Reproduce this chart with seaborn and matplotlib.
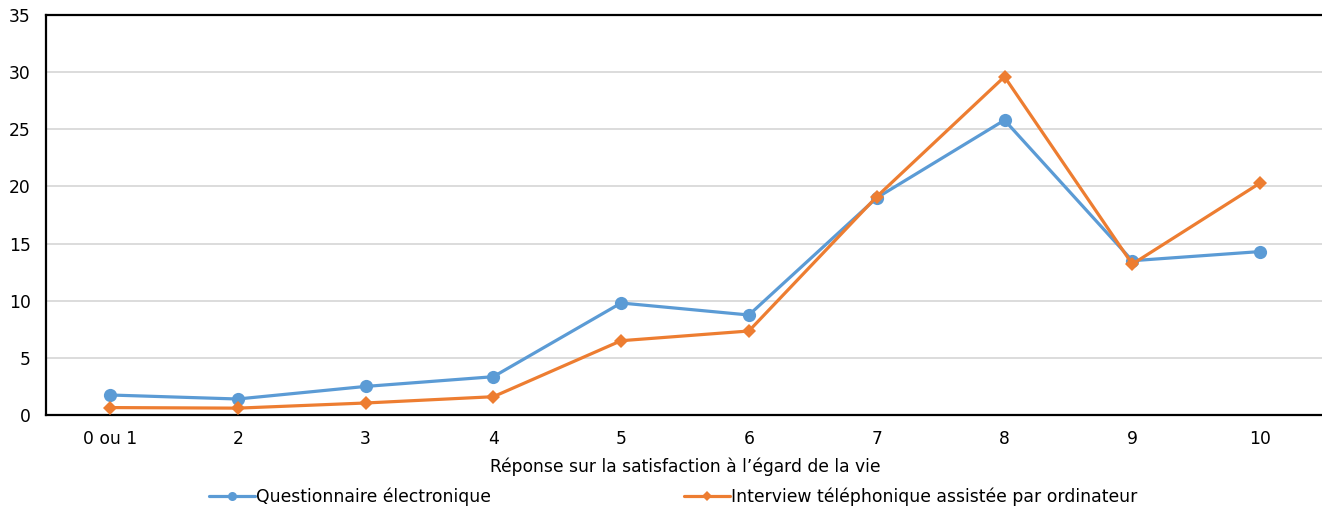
import matplotlib
matplotlib.use("Agg")
import matplotlib.pyplot as plt
from matplotlib.lines import Line2D
import seaborn as sns
import pandas as pd

categories = ["0 ou 1", "2", "3", "4", "5", "6", "7", "8", "9", "10"]
questionnaire = [1.75, 1.4, 2.5, 3.35, 9.8, 8.75, 19.0, 25.8, 13.5, 14.3]
interview = [0.65, 0.6, 1.05, 1.6, 6.5, 7.35, 19.1, 29.6, 13.2, 20.3]
series_names = ["Questionnaire électronique",
                "Interview téléphonique assistée par ordinateur"]
y_ticks = [0, 5, 10, 15, 20, 25, 30, 35]

sns.set_theme(style="white")
plt.rcParams["font.family"] = ["DejaVu Sans"]
plt.rcParams["text.color"] = "black"

fig = plt.figure(figsize=(13.22, 5.09), dpi=100)
ax = fig.add_axes([46 / 1322, 94 / 509, 1278 / 1322, 400 / 509])

pos = list(range(len(categories)))
df = pd.DataFrame({"pos": pos * 2,
                   "val": questionnaire + interview,
                   "serie": [series_names[0]] * len(pos) + [series_names[1]] * len(pos)})

blue = "#5B9BD5"
orange = "#ED7D31"
sns.lineplot(data=df[df.serie == series_names[0]], x="pos", y="val", ax=ax,
             color=blue, lw=2.3, marker="o", markersize=9.5,
             markeredgewidth=0, zorder=3)
sns.lineplot(data=df[df.serie == series_names[1]], x="pos", y="val", ax=ax,
             color=orange, lw=2.3, marker="D", markersize=7,
             markeredgewidth=0, zorder=4)

ax.set_xlim(-0.5, len(categories) - 0.5)
ax.set_ylim(0, 35)
ax.set_xticks(pos)
ax.set_xticklabels(categories)
ax.set_yticks(y_ticks)
ax.tick_params(axis="both", length=0, labelsize=12.3, colors="#000000")
ax.tick_params(axis="x", pad=11)
ax.tick_params(axis="y", pad=11)
ax.yaxis.grid(True, color="#d9d9d9", lw=1.3)
ax.set_axisbelow(True)
for side in ["left", "top", "bottom"]:
    ax.spines[side].set_color("black")
    ax.spines[side].set_linewidth(1.6)
ax.spines["right"].set_visible(False)

ax.set_xlabel("Réponse sur la satisfaction à l’égard de la vie", fontsize=12.3,
              labelpad=7, color="black")
ax.set_ylabel("")

handles = [
    Line2D([], [], color=blue, lw=2.3, marker="o", markersize=6.5, markeredgewidth=0),
    Line2D([], [], color=orange, lw=2.3, marker="D", markersize=5, markeredgewidth=0),
]
leg = fig.legend(handles, series_names, loc="center",
                 bbox_to_anchor=(673 / 1322, 1 - 497 / 509),
                 ncol=2, frameon=False, handlelength=2.7,
                 handletextpad=0.05, columnspacing=11.2,
                 prop={"family": ["DejaVu Sans"], "size": 12.4})
for t in leg.get_texts():
    t.set_color("black")

fig.savefig("out.png", dpi=100)
